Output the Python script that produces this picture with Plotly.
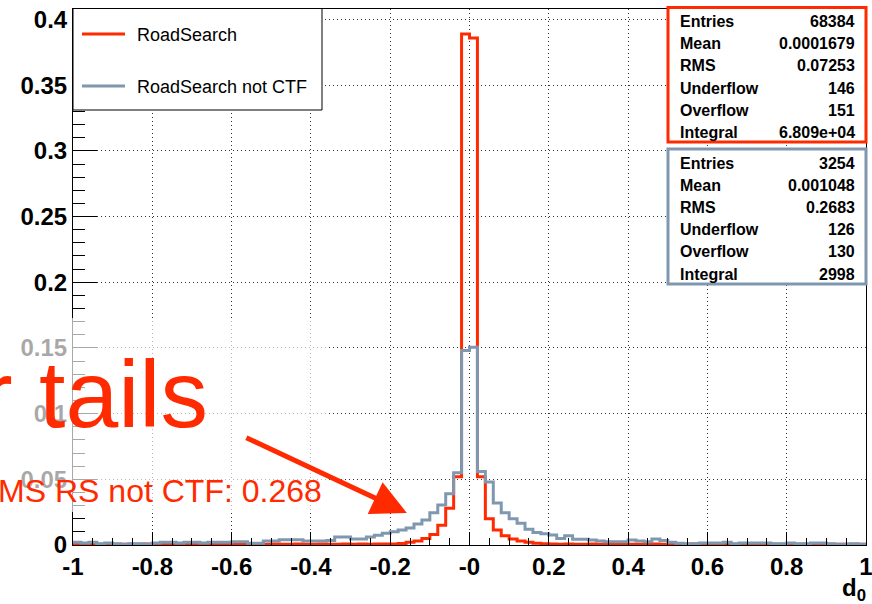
import plotly.graph_objects as go

# ---------------- data ----------------
bin_edges = [round(-1 + 0.02 * i, 2) for i in range(101)]

red_values = [
    0.0006, 0.0007, 0.0005, 0.0006, 0.0007, 0.0005, 0.0006, 0.0005, 0.0006, 0.0007,
    0.0006, 0.0005, 0.0006, 0.0007, 0.0006, 0.0005, 0.0006, 0.0007, 0.0006, 0.0006,
    0.0006, 0.0007, 0.0006, 0.0005, 0.0006, 0.0007, 0.0006, 0.0006, 0.0007, 0.0006,
    0.0006, 0.0007, 0.0006, 0.0006, 0.0007, 0.0006, 0.0007, 0.0006, 0.0007, 0.0007,
    0.0008, 0.0012, 0.002, 0.003, 0.005, 0.008, 0.015, 0.028, 0.052, 0.389,
    0.386, 0.052, 0.020, 0.0114, 0.007, 0.0045, 0.003, 0.002, 0.0013, 0.001,
    0.0007, 0.0006, 0.0007, 0.0006, 0.0006, 0.0007, 0.0006, 0.0006, 0.0007, 0.0006,
    0.0006, 0.0005, 0.0006, 0.0007, 0.0006, 0.0006, 0.0005, 0.0006, 0.0007, 0.0006,
    0.0006, 0.0007, 0.0006, 0.0005, 0.0006, 0.0006, 0.0007, 0.0006, 0.0005, 0.0006,
    0.0006, 0.0005, 0.0006, 0.0007, 0.0006, 0.0005, 0.0006, 0.0006, 0.0005, 0.0006,
]

gray_values = [
    0.002, 0.0015, 0.002, 0.001, 0.0015, 0.001, 0.0005, 0.001, 0.001, 0.0005,
    0.0015, 0.002, 0.002, 0.0015, 0.002, 0.002, 0.0015, 0.002, 0.002, 0.002,
    0.0025, 0.0025, 0.0013, 0.0013, 0.003, 0.003, 0.004, 0.004, 0.004, 0.003,
    0.003, 0.003, 0.0035, 0.006, 0.006, 0.0045, 0.0045, 0.006, 0.0075, 0.009,
    0.010, 0.0115, 0.013, 0.016, 0.019, 0.0246, 0.0305, 0.039, 0.055, 0.148,
    0.1505, 0.056, 0.048, 0.032, 0.0246, 0.020, 0.0165, 0.012, 0.0095, 0.0085,
    0.0076, 0.005, 0.007, 0.0043, 0.0043, 0.0038, 0.003, 0.0025, 0.0025, 0.0025,
    0.0038, 0.003, 0.0025, 0.0046, 0.0035, 0.002, 0.0013, 0.001, 0.001, 0.0015,
    0.0015, 0.0015, 0.002, 0.001, 0.0015, 0.0015, 0.0015, 0.0015, 0.001, 0.001,
    0.0015, 0.001, 0.001, 0.0015, 0.0015, 0.001, 0.0005, 0.0005, 0.001, 0.0005,
]

x_tick_values = [-1, -0.8, -0.6, -0.4, -0.2, 0, 0.2, 0.4, 0.6, 0.8, 1]
x_tick_labels = ["-1", "-0.8", "-0.6", "-0.4", "-0.2", "-0", "0.2", "0.4", "0.6", "0.8", "1"]
y_tick_values = [0, 0.05, 0.1, 0.15, 0.2, 0.25, 0.3, 0.35, 0.4]
y_tick_labels = ["0", "0.05", "0.1", "0.15", "0.2", "0.25", "0.3", "0.35", "0.4"]

series_names = ["RoadSearch", "RoadSearch not CTF"]
stat_labels = ["Entries", "Mean", "RMS", "Underflow", "Overflow", "Integral"]
stats_red = ["68384", "0.0001679", "0.07253", "146", "151", "6.809e+04"]
stats_gray = ["3254", "0.001048", "0.2683", "126", "130", "2998"]

RED = "#ff2a00"
GRAY = "#7f98b0"
FONT = "Liberation Sans, Arial, Helvetica, sans-serif"

# ---------------- layout geometry ----------------
W, H = 872, 604
ML, MR, MT, MB = 73, 6, 9, 59
PW, PH = W - ML - MR, H - MT - MB


def px(x):
    return (x - ML) / PW


def py(y):
    return (H - MB - y) / PH


fig = go.Figure()

for vals, name, color in [(red_values, series_names[0], RED), (gray_values, series_names[1], GRAY)]:
    fig.add_trace(go.Scatter(
        x=bin_edges,
        y=list(vals) + [vals[-1]],
        mode="lines",
        line=dict(color=color, width=3, shape="hv"),
        name=name,
        showlegend=False,
        hoverinfo="skip",
    ))

shapes = []
annotations = []

# semi-transparent white veil over the left-lower area
shapes.append(dict(type="rect", xref="paper", yref="paper",
                   x0=px(-5), x1=px(328), y0=py(512), y1=py(318),
                   fillcolor="rgba(255,255,255,0.66)", line=dict(width=0), layer="above"))

# legend box
shapes.append(dict(type="rect", xref="paper", yref="paper",
                   x0=px(73), x1=px(322), y0=py(110), y1=py(8.5),
                   fillcolor="white", line=dict(color="black", width=1), layer="above"))
for yy, color, name in [(34, RED, series_names[0]), (86, GRAY, series_names[1])]:
    shapes.append(dict(type="line", xref="paper", yref="paper",
                       x0=px(82), x1=px(125), y0=py(yy), y1=py(yy),
                       line=dict(color=color, width=3), layer="above"))
    annotations.append(dict(xref="paper", yref="paper", x=px(135), y=py(yy + 1),
                            xanchor="left", yanchor="middle", showarrow=False,
                            text=name, font=dict(family=FONT, size=18, color="black")))

# stat boxes
for (top, bottom, color, vals) in [(7.5, 142, RED, stats_red), (149, 284, GRAY, stats_gray)]:
    shapes.append(dict(type="rect", xref="paper", yref="paper",
                       x0=px(668), x1=px(866), y0=py(bottom), y1=py(top),
                       fillcolor="white", line=dict(color=color, width=3), layer="above"))
    for k, (lab, v) in enumerate(zip(stat_labels, vals)):
        yy = top + 14 + k * 22.2
        annotations.append(dict(xref="paper", yref="paper", x=px(678), y=py(yy),
                                xanchor="left", yanchor="middle", showarrow=False,
                                text="<b>%s</b>" % lab, font=dict(family=FONT, size=16, color="black")))
        annotations.append(dict(xref="paper", yref="paper", x=px(857), y=py(yy),
                                xanchor="right", yanchor="middle", showarrow=False,
                                text="<b>%s</b>" % v, font=dict(family=FONT, size=16, color="black")))

# axis title d0
annotations.append(dict(xref="paper", yref="paper", x=px(868), y=py(589),
                        xanchor="right", yanchor="middle", showarrow=False,
                        text="<b>d<sub>0</sub></b>", font=dict(family=FONT, size=24, color="black")))

# big overlaid texts
annotations.append(dict(xref="paper", yref="paper", x=px(210), y=py(427),
                        xanchor="right", yanchor="bottom", showarrow=False, yshift=-22,
                        text="r tails", font=dict(family=FONT, size=95, color=RED)))
annotations.append(dict(xref="paper", yref="paper", x=px(324), y=py(491),
                        xanchor="right", yanchor="middle", showarrow=False,
                        text="RMS RS not CTF: 0.268", font=dict(family=FONT, size=32, color=RED)))

# arrow
annotations.append(dict(xref="x", yref="y", x=-0.158, y=0.0244,
                        axref="pixel", ayref="pixel", ax=-162, ay=-76,
                        showarrow=True, arrowhead=2, arrowsize=1.4, arrowwidth=5,
                        arrowcolor=RED, text=""))

GRID = "rgba(0,0,0,0.8)"
fig.update_layout(
    width=W, height=H, autosize=False,
    margin=dict(l=ML, r=MR, t=MT, b=MB, pad=0, autoexpand=False),
    paper_bgcolor="white", plot_bgcolor="white",
    showlegend=False,
    shapes=shapes, annotations=annotations,
    xaxis=dict(
        range=[-1, 1], tickvals=x_tick_values, ticktext=x_tick_labels,
        ticks="inside", ticklen=13, tickwidth=1, tickcolor="black",
        minor=dict(ticks="inside", ticklen=7, dtick=0.05, tick0=0, tickcolor="black",
                   showgrid=False),
        showgrid=True, gridcolor=GRID, griddash="1px,3px", gridwidth=1,
        showline=True, linecolor="black", linewidth=1, mirror=True,
        zeroline=False, ticklabeloverflow="allow", automargin=False,
        tickfont=dict(family=FONT, size=24, color="black", weight="bold"),
    ),
    yaxis=dict(
        range=[0, 0.408], tickvals=y_tick_values, ticktext=y_tick_labels,
        ticks="inside", ticklen=24, tickwidth=1, tickcolor="black",
        minor=dict(ticks="inside", ticklen=12, dtick=0.01, tick0=0, tickcolor="black",
                   showgrid=False),
        showgrid=True, gridcolor=GRID, griddash="1px,3px", gridwidth=1,
        showline=True, linecolor="black", linewidth=1, mirror=True,
        zeroline=False, ticklabeloverflow="allow", automargin=False,
        tickfont=dict(family=FONT, size=24, color="black", weight="bold"),
    ),
)

fig.write_html("out.html")
